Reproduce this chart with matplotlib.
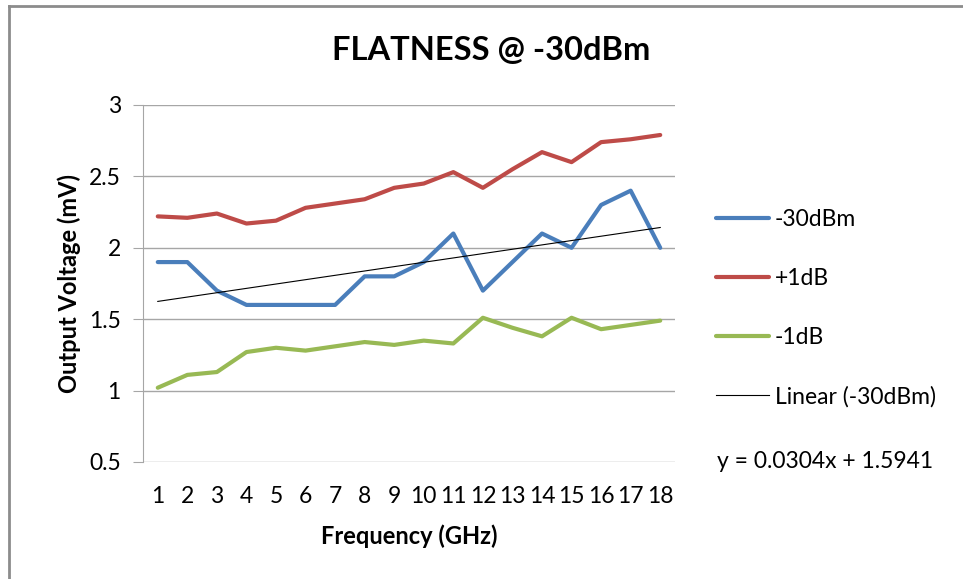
import numpy as np
import matplotlib
matplotlib.use("Agg")
import matplotlib.pyplot as plt
from matplotlib.lines import Line2D

plt.rcParams['font.family'] = ['Lato', 'DejaVu Sans']

# data
freq = list(range(1, 19))
v_30dbm = [1.9, 1.9, 1.7, 1.6, 1.6, 1.6, 1.6, 1.8, 1.8, 1.9, 2.1, 1.7, 1.9, 2.1, 2.0, 2.3, 2.4, 2.0]
v_plus1 = [2.22, 2.21, 2.24, 2.17, 2.19, 2.28, 2.31, 2.34, 2.42, 2.45, 2.53, 2.42, 2.55, 2.67, 2.60, 2.74, 2.76, 2.79]
v_minus1 = [1.02, 1.11, 1.13, 1.27, 1.30, 1.28, 1.31, 1.34, 1.32, 1.35, 1.33, 1.51, 1.44, 1.38, 1.51, 1.43, 1.46, 1.49]
yticks = [0.5, 1, 1.5, 2, 2.5, 3]

# trendline of the -30dBm series
slope, icpt = np.polyfit(freq, v_30dbm, 1)
trend = [slope * f + icpt for f in freq]

fig = plt.figure(figsize=(9.63, 5.79), dpi=100)
ax = fig.add_axes([143/963, 1-462/579, (675-143)/963, (462-105)/579])

grid_c = '#a6a6a6'
ax.plot(freq, v_30dbm, color='#4a7ebb', lw=3, solid_capstyle='round', label='-30dBm')
ax.plot(freq, v_plus1, color='#be4b48', lw=3, solid_capstyle='round', label='+1dB')
ax.plot(freq, v_minus1, color='#98b954', lw=3, solid_capstyle='round', label='-1dB')
ax.plot(freq, trend, color='black', lw=0.8, label='Linear (-30dBm)')

ax.set_xlim(0.5, 18.5)
ax.set_ylim(0.5, 3)
ax.set_xticks(freq)
ax.set_xticklabels([str(f) for f in freq])
ax.set_yticks(yticks)
ax.set_yticklabels(['0.5', '1', '1.5', '2', '2.5', '3'])
ax.yaxis.grid(True, color=grid_c, lw=1)
ax.set_axisbelow(True)
for s in ['top', 'right', 'bottom']:
    ax.spines[s].set_visible(False)
ax.spines['left'].set_color(grid_c)
ax.tick_params(axis='y', length=7, color=grid_c, pad=9, labelsize=16.5)
ax.tick_params(axis='x', length=0, pad=17, labelsize=16.5)

ax.set_xlabel('Frequency (GHz)', fontsize=17, fontweight='bold', labelpad=13)
ax.set_ylabel('Output Voltage (mV)', fontsize=17, fontweight='bold', labelpad=6)

fig.text(491/963, 1-51/579, 'FLATNESS @ -30dBm', fontsize=23.5, fontweight='bold',
         ha='center', va='center')

ax.legend(loc='upper left', bbox_to_anchor=(707/963, 1-200/579), bbox_transform=fig.transFigure,
          frameon=False, fontsize=16.5, handlelength=2.3, handletextpad=0.25,
          labelspacing=1.65, borderaxespad=0)

fig.text(717/963, 1-462/579, 'y = 0.%04dx + %.4f' % (round(slope*10000), icpt), fontsize=16.5,
         ha='left', va='center')

# chart border
fig.add_artist(Line2D([9/963, 1], [1-6/579, 1-6/579], color='#8c8c8c', lw=2))
fig.add_artist(Line2D([9/963, 9/963], [0, 1-6/579], color='#8c8c8c', lw=2))

fig.savefig('out.png', dpi=100)
